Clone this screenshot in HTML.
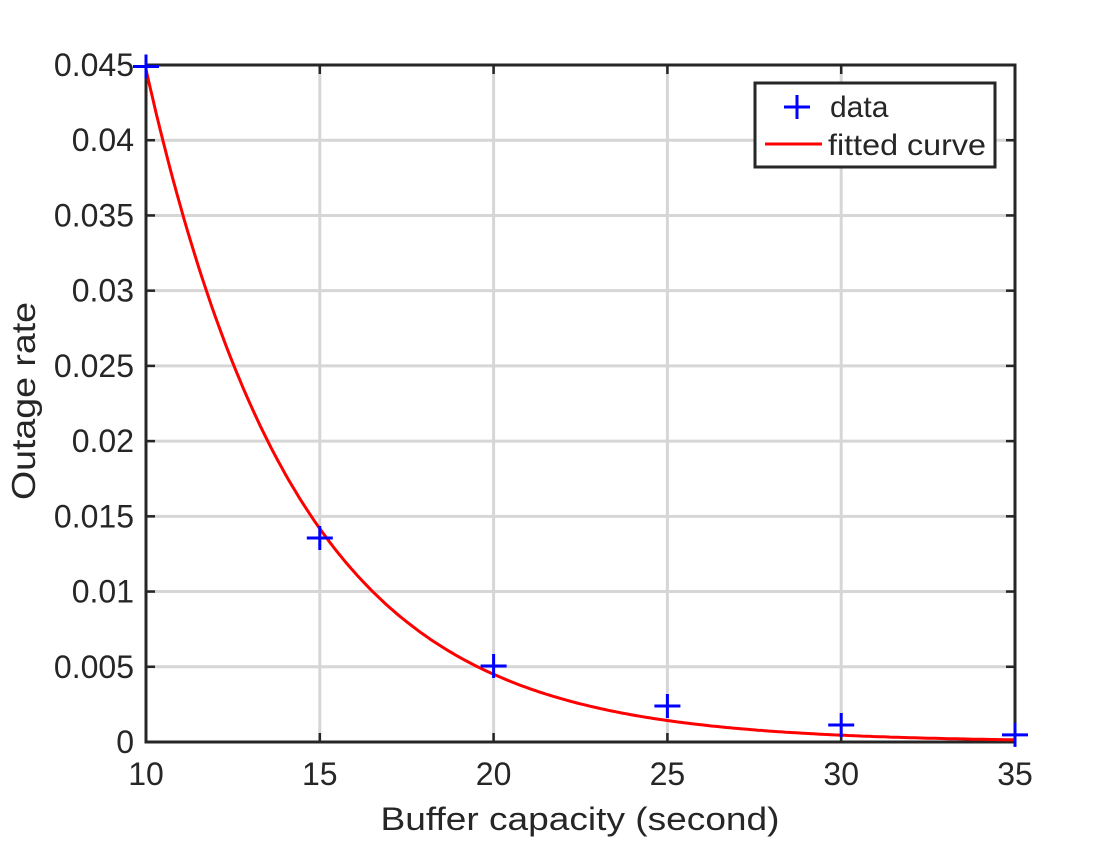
<!DOCTYPE html>
<html><head><meta charset="utf-8"><style>
html,body{margin:0;padding:0;background:#fff;}
svg text{font-family:"Liberation Sans",sans-serif;fill:#262626;}
</style></head><body>
<svg id="chart" width="1120" height="840" xmlns="http://www.w3.org/2000/svg">
<g id="grid"></g>
<g id="axes"></g>
<g id="series"></g>
<text x="580" y="830" font-size="32" text-anchor="middle" textLength="399" lengthAdjust="spacingAndGlyphs">Buffer capacity (second)</text>
<text transform="translate(35,401) rotate(-90)" font-size="33" text-anchor="middle" textLength="198" lengthAdjust="spacingAndGlyphs">Outage rate</text>
<g>
<rect x="755" y="83" width="240" height="84" fill="#fff" stroke="#262626" stroke-width="3"/>
<g>
<path d="M784 107h26M797 95v24" stroke="#0000ff" stroke-width="3"/>
<text x="830" y="117" font-size="30">data</text></g>
<g>
<path d="M765 144h57" stroke="#ff0000" stroke-width="3"/>
<text x="828" y="155" font-size="30" textLength="158" lengthAdjust="spacingAndGlyphs">fitted curve</text></g>
</g>
</svg>
<script>
const xTicks=[10,15,20,25,30,35];
const xTickLabels=["10","15","20","25","30","35"];
const yTicks=[0,0.005,0.01,0.015,0.02,0.025,0.03,0.035,0.04,0.045];
const yTickLabels=["0","0.005","0.01","0.015","0.02","0.025","0.03","0.035","0.04","0.045"];
const dataX=[10,15,20,25,30,35];
const dataY=[0.0449,0.01356,0.00505,0.00239,0.00113,0.00047];
const fitA=0.0447;
const fitB=-0.2296;
const L=146,R=1015,T=65,B=742;
const sx=v=>L+(v-10)/25*(R-L);
const sy=v=>B-v/0.045*(B-T);
const NS="http://www.w3.org/2000/svg";
function mk(p,tag,at){const e=document.createElementNS(NS,tag);for(const k in at)e.setAttribute(k,at[k]);p.appendChild(e);return e;}
const grid=document.getElementById('grid'),axes=document.getElementById('axes'),ser=document.getElementById('series');
xTicks.forEach((t,i)=>{const x=sx(t);
 const g=mk(grid,'line',{x1:x,x2:x,y1:T,y2:B,stroke:'#d6d6d6','stroke-width':3});
 
 
 mk(axes,'line',{x1:x,x2:x,y1:B,y2:B-9,stroke:'#262626','stroke-width':2.5});
 mk(axes,'line',{x1:x,x2:x,y1:T,y2:T+9,stroke:'#262626','stroke-width':2.5});
 const tx=mk(axes,'text',{x:x,y:B+43,'font-size':32,'text-anchor':'middle'});tx.textContent=xTickLabels[i];
 
 
});
yTicks.forEach((t,i)=>{const y=sy(t);
 const g=mk(grid,'line',{x1:L,x2:R,y1:y,y2:y,stroke:'#d6d6d6','stroke-width':3});
 
 
 mk(axes,'line',{x1:L,x2:L+9,y1:y,y2:y,stroke:'#262626','stroke-width':2.5});
 mk(axes,'line',{x1:R,x2:R-9,y1:y,y2:y,stroke:'#262626','stroke-width':2.5});
 const tx=mk(axes,'text',{x:L-12,y:y+11,'font-size':32,'text-anchor':'end'});tx.textContent=yTickLabels[i];
 
 
});
const fr=mk(axes,'rect',{x:L,y:T,width:R-L,height:B-T,fill:'none',stroke:'#262626','stroke-width':3});


let d='';for(let k=0;k<=250;k++){const x=10+k*0.1;d+=(k?'L':'M')+sx(x).toFixed(1)+' '+sy(fitA*Math.exp(fitB*(x-10))).toFixed(1);}
const c=mk(ser,'path',{d:d,fill:'none',stroke:'#ff0000','stroke-width':3});


dataX.forEach((v,i)=>{const x=sx(v),y=sy(dataY[i]);
 const p=mk(ser,'path',{d:`M${x-13} ${y}h26M${x} ${y-12}v24`,stroke:'#0000ff','stroke-width':3});
 
 
});
</script>
</body></html>
